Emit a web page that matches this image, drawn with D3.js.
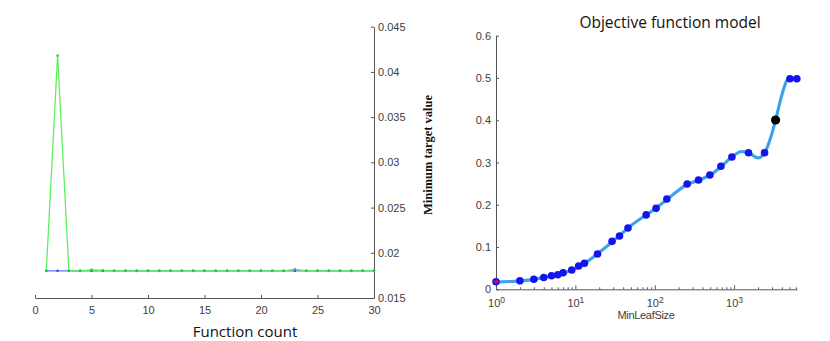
<!DOCTYPE html>
<html><head><meta charset="utf-8">
<script src="https://cdn.jsdelivr.net/npm/d3@7"></script>
<style>body{margin:0;background:#fff}svg{display:block}</style>
</head><body>
<svg id="c" width="830" height="341"></svg>
<script>
// ---- Left chart data ----
const fnCount = d3.range(1, 31);
const observedMin = [0.018,0.0418,0.018,0.018,0.01812,0.01805,0.018,0.018,0.018,0.018,0.018,0.018,0.018,0.018,0.018,0.018,0.018,0.018,0.018,0.018,0.018,0.018,0.01818,0.018,0.018,0.018,0.018,0.018,0.018,0.018];
const estimatedMin = [0.018,0.018,0.018,0.018,0.018,0.018,0.018,0.018,0.018,0.018,0.018,0.018,0.018,0.018,0.018,0.018,0.018,0.018,0.018,0.018,0.018,0.018,0.018,0.018,0.018,0.018,0.018,0.018,0.018,0.018];
const leftXTicks = [0,5,10,15,20,25,30];
const leftYTicks = [0.015,0.02,0.025,0.03,0.035,0.04,0.045];

// ---- Right chart data ----
const leafSize = [1,2,3,4,5,6,7,9,11,13,19,29,36,46,78,104,142,256,356,495,682,938,1520,2420,5050,6170];
const leafObj  = [0.018,0.020,0.0237,0.028,0.032,0.0346,0.039,0.0457,0.055,0.0615,0.0835,0.1135,0.126,0.145,0.176,0.1915,0.2136,0.249,0.2585,0.2704,0.291,0.313,0.323,0.323,0.498,0.498];
const bestX = 3330, bestY = 0.4005;
const modelX = [1,2,3,4,5,6,7,9,11,13,19,29,36,46,78,104,142,256,356,495,682,938,1250,1550,2000,2420,2900,3330,4000,4700,5200,6170];
const modelY = [0.017,0.020,0.0235,0.028,0.032,0.035,0.039,0.045,0.053,0.061,0.084,0.112,0.127,0.145,0.176,0.192,0.212,0.248,0.258,0.270,0.290,0.313,0.326,0.322,0.311,0.323,0.36,0.40,0.46,0.496,0.500,0.498];
const rightYTicks = [0,0.1,0.2,0.3,0.4,0.5,0.6];
const rightXTicks = [1,10,100,1000];

const svg = d3.select('#c');
const tickColor = '#555', labelColor = '#404040';
const tickFont = '11px "Liberation Sans", Arial, sans-serif';

function styleAxis(g){
  g.selectAll('path,line').attr('stroke', tickColor);
  g.selectAll('text').attr('fill', labelColor).style('font', tickFont);
}

// ===== Left chart =====
const xL = d3.scaleLinear([0,30],[35,374]);
const yL = d3.scaleLinear([0.015,0.045],[298,26.7]);

svg.append('g').attr('transform','translate(0,298)')
  .call(d3.axisBottom(xL).tickValues(leftXTicks).tickSizeInner(-3).tickSizeOuter(0).tickPadding(8).tickFormat(d3.format('d')))
  .call(styleAxis);
svg.append('g').attr('transform','translate(374,0)')
  .call(d3.axisRight(yL).tickValues(leftYTicks).tickSizeInner(-3).tickSizeOuter(0).tickPadding(4).tickFormat(d=>String(+d.toFixed(3))))
  .call(styleAxis);

const lineL = (arr)=>d3.line().x((d,i)=>xL(fnCount[i])).y(d=>yL(d))(arr);
svg.append('path').attr('d', lineL(estimatedMin)).attr('fill','none').attr('stroke','#6f6fff').attr('stroke-width',1.2);
svg.selectAll('.bm').data(estimatedMin).join('circle')
  .attr('cx',(d,i)=>xL(fnCount[i])).attr('cy',d=>yL(d)).attr('r',1.3).attr('fill','#4040ff');
svg.append('path').attr('d', lineL(observedMin)).attr('fill','none').attr('stroke','#55f055').attr('stroke-width',1.2);
svg.selectAll('.gm').data(observedMin).join('circle')
  .attr('cx',(d,i)=>xL(fnCount[i])).attr('cy',d=>yL(d)).attr('r',1.3).attr('fill','#22cc44');

svg.append('text').attr('x',245).attr('y',337).attr('text-anchor','middle')
  .style('font','15px "Open Sans", sans-serif').attr('fill','#111').text('Function count');

// shared y label
svg.append('text').attr('transform','translate(432,155) rotate(-90)').attr('text-anchor','middle')
  .style('font','bold 12.5px "Liberation Serif", "Times New Roman", serif').attr('fill','#111').text('Minimum target value');

// ===== Right chart =====
const xR = d3.scaleLog([1,6200],[496,797]);
const yR = d3.scaleLinear([0,0.6],[289.3,35.7]);

const minor = [];
for (let p=0;p<4;p++) for (let m=2;m<=9;m++){ const v=m*Math.pow(10,p); if (v<=6200) minor.push(v); }
svg.append('g').attr('transform','translate(0,289.3)')
  .call(d3.axisBottom(xR).tickValues(minor).tickSizeInner(-2).tickSizeOuter(0).tickFormat(''))
  .call(styleAxis).call(g=>g.select('.domain').remove());
const xAx = svg.append('g').attr('transform','translate(0,289.3)')
  .call(d3.axisBottom(xR).tickValues(rightXTicks).tickSizeInner(-4).tickSizeOuter(0).tickPadding(8).tickFormat(''))
  .call(styleAxis);
xAx.selectAll('.tick').each(function(d){
  const t = d3.select(this).select('text').text(null).attr('dy','0.71em').attr('y',10);
  t.append('tspan').text('10');
  t.append('tspan').attr('dy','-0.5em').style('font-size','8.5px').text(String(Math.round(Math.log10(d))));
});
svg.append('g').attr('transform','translate(496,0)')
  .call(d3.axisLeft(yR).tickValues(rightYTicks).tickSizeInner(-3).tickSizeOuter(0).tickPadding(5).tickFormat(d=>String(+d.toFixed(1))))
  .call(styleAxis);

const curve = d3.line().x((d,i)=>xR(modelX[i])).y(d=>yR(d)).curve(d3.curveMonotoneX);
svg.append('path').attr('d', curve(modelY)).attr('fill','none').attr('stroke','#35b2f2').attr('stroke-width',3.2).attr('stroke-linecap','round');
svg.append('path').attr('d', curve(modelY.map(v=>v+0.002))).attr('fill','none').attr('stroke','#5a78c8').attr('stroke-width',0.6).attr('opacity',0.7);
svg.append('path').attr('d', curve(modelY.map(v=>v-0.002))).attr('fill','none').attr('stroke','#5a78c8').attr('stroke-width',0.6).attr('opacity',0.7);

svg.selectAll('.pt').data(leafObj).join('circle')
  .attr('cx',(d,i)=>xR(leafSize[i])).attr('cy',d=>yR(d)).attr('r',3.8).attr('fill','#1414ee');
svg.append('circle').attr('cx',xR(leafSize[0])).attr('cy',yR(leafObj[0])).attr('r',2).attr('fill','#d01040');
svg.append('circle').attr('cx',xR(bestX)).attr('cy',yR(bestY)).attr('r',4.6).attr('fill','#000');

svg.append('text').attr('x',646).attr('y',319).attr('text-anchor','middle')
  .style('font',tickFont).attr('fill',labelColor).attr('letter-spacing','-0.3').text('MinLeafSize');
svg.append('text').attr('x',670).attr('y',28).attr('text-anchor','middle')
  .style('font','15.5px "Open Sans", sans-serif').attr('fill','#111').text('Objective function model');
</script>
</body></html>
